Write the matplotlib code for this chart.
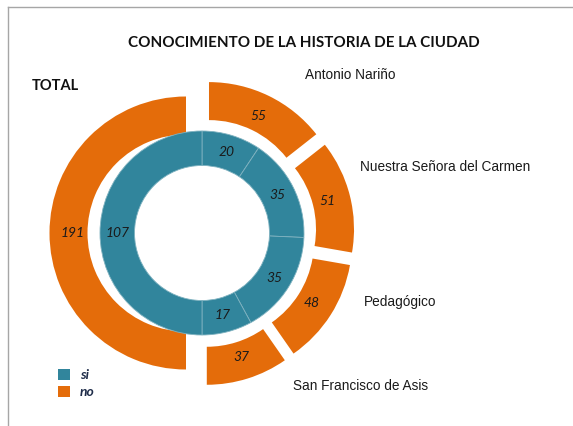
import matplotlib
matplotlib.use("Agg")
import matplotlib.pyplot as plt
from matplotlib.patches import Patch
from matplotlib.lines import Line2D
import numpy as np

# ---- data ----
title = "CONOCIMIENTO DE LA HISTORIA DE LA CIUDAD"
schools = ["Antonio Nariño", "Nuestra Señora del Carmen", "Pedagógico", "San Francisco de Asis"]
si_by_school = [20, 35, 35, 17]
no_by_school = [55, 51, 48, 37]
si_total = 107
no_total = 191
series_names = ["si", "no"]

# ---- style ----
TEAL = "#31859C"
ORANGE = "#E46C0A"
W, H = 573, 426

fig = plt.figure(figsize=(W / 100, H / 100), dpi=100)
ax = fig.add_axes([0, 0, 1, 1])

cx, cy = 202, H - 233
R_out, w_out = 136.5, 38
R_in, w_in = 102, 34.5
expl = 16

outer_vals = no_by_school + [no_total]
inner_vals = si_by_school + [si_total]

wo, _ = ax.pie(outer_vals, radius=R_out, center=(cx, cy), startangle=90,
               counterclock=False, explode=[expl] * len(outer_vals),
               colors=[ORANGE] * len(outer_vals),
               wedgeprops=dict(width=w_out, edgecolor="none"), frame=True)
wi, _ = ax.pie(inner_vals, radius=R_in, center=(cx, cy), startangle=90,
               counterclock=False, colors=[TEAL] * len(inner_vals),
               wedgeprops=dict(width=w_in, edgecolor="#7fb2c0", linewidth=0.6),
               frame=True)
ax.set_xlim(0, W)
ax.set_ylim(0, H)
ax.set_aspect("equal")
ax.axis("off")

lab_font = dict(family=["Lato", "DejaVu Sans"], style="italic", fontsize=10, color="#1a1a1a")

def label_wedges(wedges, vals, frac):
    for w, v in zip(wedges, vals):
        th = np.deg2rad((w.theta1 + w.theta2) / 2)
        r = w.r - w.width * frac
        x = w.center[0] + r * np.cos(th)
        y = w.center[1] + r * np.sin(th)
        ax.text(x, y, str(v), ha="center", va="center", **lab_font)

label_wedges(wo, outer_vals, 0.6)
label_wedges(wi, inner_vals, 0.5)

# title and labels
fig.text(304 / W, 1 - 43 / H, title, ha="center", va="center",
         fontsize=10.9, fontweight="bold", family=["Lato", "DejaVu Sans"], color="#111111")
fig.text(32 / W, 1 - 86 / H, "TOTAL", ha="left", va="center",
         fontsize=10.5, fontweight="bold", family=["Lato", "DejaVu Sans"], color="#111111")

narrow = ["Liberation Sans", "DejaVu Sans"]
school_pos = [(305, 75), (360, 167), (364, 302), (293, 386)]
for name, (x, y) in zip(schools, school_pos):
    fig.text(x / W, 1 - y / H, name, ha="left", va="center", fontsize=9.8,
             family=narrow, color="#1a1a1a")

# legend
handles = [Patch(facecolor=TEAL, edgecolor="none"), Patch(facecolor=ORANGE, edgecolor="none")]
fig.legend(handles, series_names, loc="upper left", bbox_to_anchor=(51 / W, 1 - 362 / H),
           frameon=False, borderpad=0, handlelength=0.85, handleheight=0.85,
           handletextpad=0.75, labelspacing=0.35,
           prop=dict(family=["Lato", "DejaVu Sans"], style="italic", weight="bold", size=10),
           labelcolor="#1f2d4a")

# chart frame (top and left edges)
fig.add_artist(Line2D([8 / W, 1], [1 - 7 / H, 1 - 7 / H], color="#a6a6a6", lw=1))
fig.add_artist(Line2D([8 / W, 8 / W], [0, 1 - 7 / H], color="#a6a6a6", lw=1))

fig.savefig("out.png", dpi=100)
